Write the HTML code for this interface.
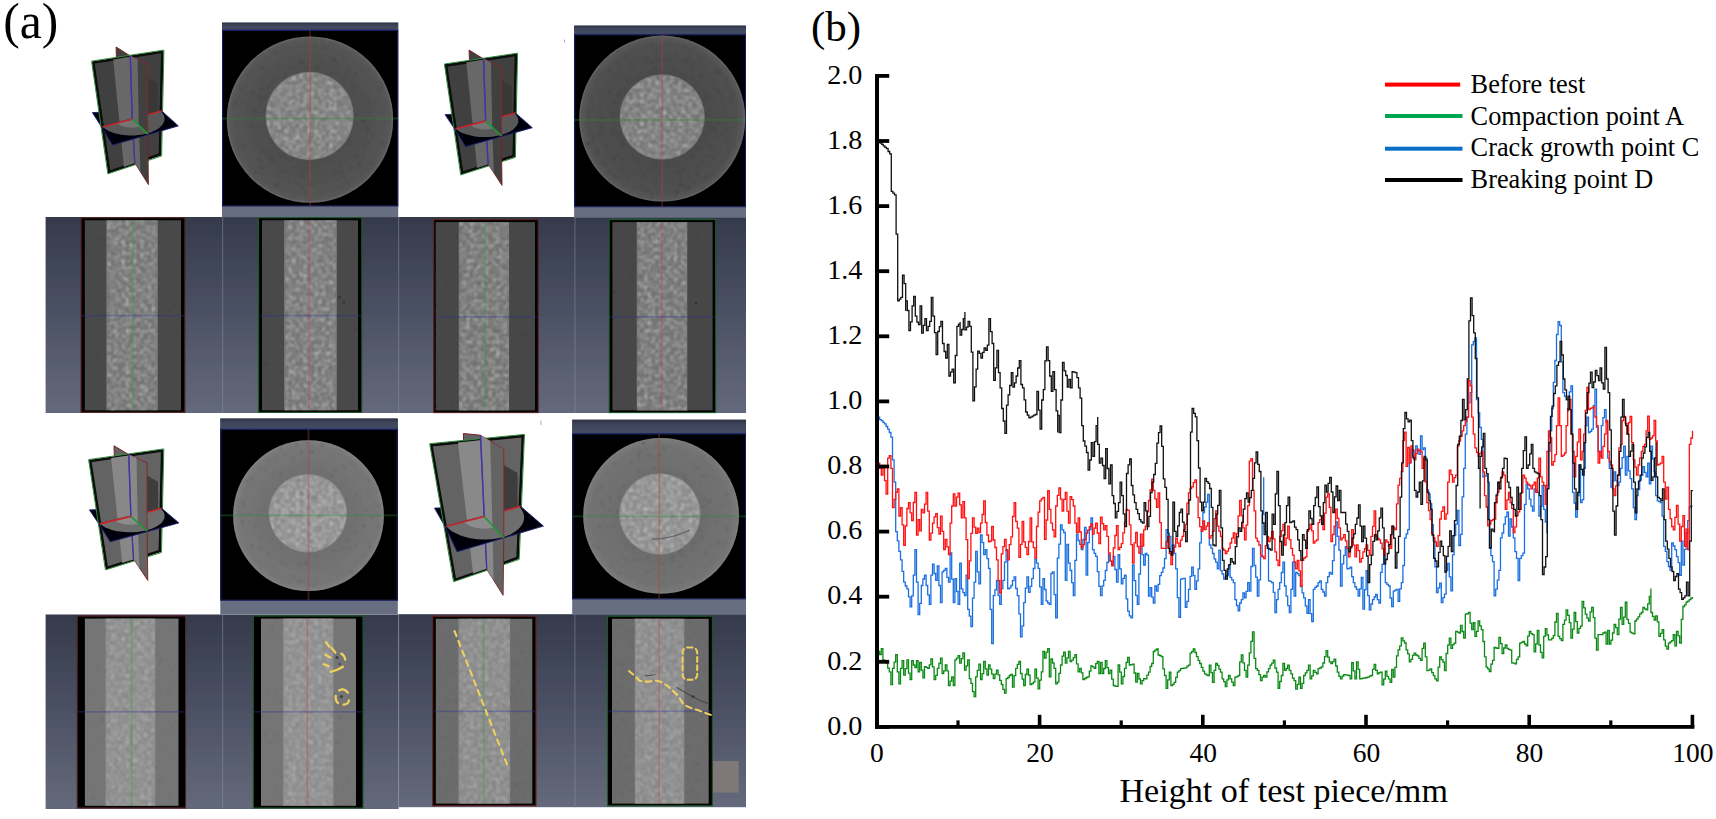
<!DOCTYPE html>
<html lang="en">
<head>
<meta charset="utf-8">
<title>CT scan slices and porosity along specimen height</title>
<style>
html,body{margin:0;padding:0;background:#fff;}
body{width:1716px;height:819px;overflow:hidden;font-family:"Liberation Serif","Times New Roman",serif;}
svg{display:block;}
</style>
</head>
<body>
<svg width="1716" height="819" viewBox="0 0 1716 819">
<rect width="1716" height="819" fill="#fff"/>
<defs><filter id="pa-soft" filterUnits="userSpaceOnUse" x="40" y="15" width="712" height="800"><feGaussianBlur stdDeviation="0.55"/></filter></defs>
<g id="panel-a" filter="url(#pa-soft)">

<defs>
<linearGradient id="slate" x1="0" y1="0" x2="0" y2="1">
<stop offset="0" stop-color="#353a4c"/><stop offset="0.45" stop-color="#4a4f62"/><stop offset="1" stop-color="#64697b"/>
</linearGradient>
<linearGradient id="strip" x1="0" y1="0" x2="0" y2="1">
<stop offset="0" stop-color="#5e6478"/><stop offset="1" stop-color="#686e81"/>
</linearGradient>
<linearGradient id="stript" x1="0" y1="0" x2="0" y2="1">
<stop offset="0" stop-color="#2d3345"/><stop offset="0.35" stop-color="#3e455a"/><stop offset="1" stop-color="#454c63"/>
</linearGradient>
<filter id="spk" x="0" y="0" width="100%" height="100%">
<feTurbulence type="fractalNoise" baseFrequency="0.27" numOctaves="3" seed="7"/>
<feColorMatrix type="matrix" values="0 0 0 0 1  0 0 0 0 1  0 0 0 0 1  1.6 1.6 0 0 -1.38"/>
<feGaussianBlur stdDeviation="0.85"/>
</filter>
<filter id="spd" x="0" y="0" width="100%" height="100%">
<feTurbulence type="fractalNoise" baseFrequency="0.24" numOctaves="2" seed="21"/>
<feColorMatrix type="matrix" values="0 0 0 0 0  0 0 0 0 0  0 0 0 0 0  -1.8 -1.8 0 0 1.45"/>
<feGaussianBlur stdDeviation="1.0"/>
</filter>
<radialGradient id="ringsh" cx="0.5" cy="0.5" r="0.5">
<stop offset="0.5" stop-color="#000" stop-opacity="0.05"/><stop offset="0.85" stop-color="#000" stop-opacity="0"/><stop offset="0.95" stop-color="#fff" stop-opacity="0.03"/><stop offset="1" stop-color="#fff" stop-opacity="0.07"/>
</radialGradient>
<filter id="soft" x="-5%" y="-5%" width="110%" height="110%"><feGaussianBlur stdDeviation="0.7"/></filter>
<filter id="soft2" x="-5%" y="-5%" width="110%" height="110%"><feGaussianBlur stdDeviation="0.45"/></filter>
</defs>
<rect x="45.6" y="217" width="700.4" height="196" fill="url(#slate)"/>
<rect x="45.6" y="614.5" width="353" height="194.5" fill="url(#slate)"/>
<rect x="398.5" y="614.2" width="347.5" height="193" fill="url(#slate)"/>
<rect x="222" y="217" width="1.2" height="196" fill="#8a90a6" fill-opacity="0.45"/>
<rect x="398" y="217" width="1.2" height="196" fill="#8a90a6" fill-opacity="0.45"/>
<rect x="574.3" y="217" width="1.2" height="196" fill="#8a90a6" fill-opacity="0.45"/>
<rect x="222" y="614.5" width="1.2" height="193" fill="#8a90a6" fill-opacity="0.45"/>
<rect x="398" y="614.5" width="1.2" height="193" fill="#8a90a6" fill-opacity="0.45"/>
<rect x="574.3" y="614.5" width="1.2" height="193" fill="#8a90a6" fill-opacity="0.45"/>
<rect x="222" y="22.6" width="176.2" height="194.6" fill="url(#strip)"/>
<rect x="222" y="22.6" width="176.2" height="7.7" fill="url(#stript)"/>
<rect x="222" y="30.3" width="176.2" height="175.7" fill="#000"/>
<rect x="222" y="29.6" width="176.2" height="1.4" fill="#1b2468"/>
<rect x="222" y="205.4" width="176.2" height="1.2" fill="#232a66"/>
<rect x="222" y="30.3" width="1.2" height="175.7" fill="#161c5a"/>
<rect x="397" y="30.3" width="1.2" height="175.7" fill="#161c5a"/>
<clipPath id="bc1"><rect x="222" y="30.3" width="176.2" height="175.7"/></clipPath>
<g clip-path="url(#bc1)">
<g filter="url(#soft)">
<circle cx="310" cy="119.6" r="83.2" fill="#525252"/>
<circle cx="310" cy="119.6" r="82.4" fill="none" stroke="#8a8a8a" stroke-opacity="0.14" stroke-width="1.6"/>
<circle cx="310" cy="119.6" r="83.2" fill="url(#ringsh)"/>
<circle cx="309.6" cy="116" r="44.2" fill="#787878"/>
</g>
<clipPath id="oc1"><circle cx="310" cy="119.6" r="82.2"/></clipPath>
<clipPath id="ic1"><circle cx="309.6" cy="116" r="43.2"/></clipPath>
<g clip-path="url(#oc1)" opacity="0.34"><rect x="226.8" y="36.4" width="166.4" height="166.4" filter="url(#spd)"/></g>
<g clip-path="url(#ic1)" opacity="0.5"><rect x="265.4" y="71.8" width="88.4" height="88.4" filter="url(#spk)"/></g>
<rect x="222" y="117.6" width="176.2" height="1.8" fill="#2a8a34" fill-opacity="0.36"/>
<rect x="309.3" y="30.3" width="1.8" height="175.7" fill="#b04040" fill-opacity="0.36"/>
</g>
<rect x="574.1" y="25.6" width="171.9" height="192.1" fill="url(#strip)"/>
<rect x="574.1" y="25.6" width="171.9" height="9" fill="url(#stript)"/>
<rect x="574.1" y="34.6" width="171.9" height="172.1" fill="#000"/>
<rect x="574.1" y="33.9" width="171.9" height="1.4" fill="#1b2468"/>
<rect x="574.1" y="206.1" width="171.9" height="1.2" fill="#232a66"/>
<rect x="574.1" y="34.6" width="1.2" height="172.1" fill="#161c5a"/>
<rect x="744.8" y="34.6" width="1.2" height="172.1" fill="#161c5a"/>
<clipPath id="bc2"><rect x="574.1" y="34.6" width="171.9" height="172.1"/></clipPath>
<g clip-path="url(#bc2)">
<g filter="url(#soft)">
<circle cx="662.2" cy="118.6" r="83" fill="#4f4f4f"/>
<circle cx="662.2" cy="118.6" r="82.2" fill="none" stroke="#8a8a8a" stroke-opacity="0.14" stroke-width="1.6"/>
<circle cx="662.2" cy="118.6" r="83" fill="url(#ringsh)"/>
<circle cx="662.2" cy="117" r="42.7" fill="#757575"/>
</g>
<clipPath id="oc2"><circle cx="662.2" cy="118.6" r="82"/></clipPath>
<clipPath id="ic2"><circle cx="662.2" cy="117" r="41.7"/></clipPath>
<g clip-path="url(#oc2)" opacity="0.34"><rect x="579.2" y="35.6" width="166" height="166" filter="url(#spd)"/></g>
<g clip-path="url(#ic2)" opacity="0.5"><rect x="619.5" y="74.3" width="85.4" height="85.4" filter="url(#spk)"/></g>
<rect x="574.1" y="119.1" width="171.9" height="1.8" fill="#2a8a34" fill-opacity="0.36"/>
<rect x="661.4" y="34.6" width="1.8" height="172.1" fill="#b04040" fill-opacity="0.36"/>
</g>
<rect x="220.3" y="418.5" width="177.5" height="195.9" fill="url(#strip)"/>
<rect x="220.3" y="418.5" width="177.5" height="10.8" fill="url(#stript)"/>
<rect x="220.3" y="429.3" width="177.5" height="171" fill="#000"/>
<rect x="220.3" y="428.6" width="177.5" height="1.4" fill="#1b2468"/>
<rect x="220.3" y="599.7" width="177.5" height="1.2" fill="#232a66"/>
<rect x="220.3" y="429.3" width="1.2" height="171" fill="#161c5a"/>
<rect x="396.6" y="429.3" width="1.2" height="171" fill="#161c5a"/>
<clipPath id="bc3"><rect x="220.3" y="429.3" width="177.5" height="171"/></clipPath>
<g clip-path="url(#bc3)">
<g filter="url(#soft)">
<circle cx="308.5" cy="515.7" r="75.4" fill="#757575"/>
<circle cx="308.5" cy="515.7" r="74.6" fill="none" stroke="#8a8a8a" stroke-opacity="0.14" stroke-width="1.6"/>
<circle cx="308.5" cy="515.7" r="75.4" fill="url(#ringsh)"/>
<circle cx="307.8" cy="513.3" r="39.3" fill="#8c8c8c"/>
</g>
<clipPath id="oc3"><circle cx="308.5" cy="515.7" r="74.4"/></clipPath>
<clipPath id="ic3"><circle cx="307.8" cy="513.3" r="38.3"/></clipPath>
<g clip-path="url(#oc3)" opacity="0.34"><rect x="233.1" y="440.3" width="150.8" height="150.8" filter="url(#spd)"/></g>
<g clip-path="url(#ic3)" opacity="0.5"><rect x="268.5" y="474" width="78.6" height="78.6" filter="url(#spk)"/></g>
<rect x="220.3" y="514.5" width="177.5" height="1.8" fill="#2a8a34" fill-opacity="0.36"/>
<rect x="307.6" y="429.3" width="1.8" height="171" fill="#b04040" fill-opacity="0.36"/>
</g>
<rect x="572.2" y="419.7" width="173.8" height="194.5" fill="url(#strip)"/>
<rect x="572.2" y="419.7" width="173.8" height="14.1" fill="url(#stript)"/>
<rect x="572.2" y="433.8" width="173.8" height="165.1" fill="#000"/>
<rect x="572.2" y="433.1" width="173.8" height="1.4" fill="#1b2468"/>
<rect x="572.2" y="598.3" width="173.8" height="1.2" fill="#232a66"/>
<rect x="572.2" y="433.8" width="1.2" height="165.1" fill="#161c5a"/>
<rect x="744.8" y="433.8" width="1.2" height="165.1" fill="#161c5a"/>
<clipPath id="bc4"><rect x="572.2" y="433.8" width="173.8" height="165.1"/></clipPath>
<g clip-path="url(#bc4)">
<g filter="url(#soft)">
<circle cx="661.1" cy="515.8" r="77.9" fill="#727272"/>
<circle cx="661.1" cy="515.8" r="77.1" fill="none" stroke="#8a8a8a" stroke-opacity="0.14" stroke-width="1.6"/>
<circle cx="661.1" cy="515.8" r="77.9" fill="url(#ringsh)"/>
<circle cx="659.8" cy="514" r="40.8" fill="#8a8a8a"/>
</g>
<clipPath id="oc4"><circle cx="661.1" cy="515.8" r="76.9"/></clipPath>
<clipPath id="ic4"><circle cx="659.8" cy="514" r="39.8"/></clipPath>
<g clip-path="url(#oc4)" opacity="0.34"><rect x="583.2" y="437.9" width="155.8" height="155.8" filter="url(#spd)"/></g>
<g clip-path="url(#ic4)" opacity="0.5"><rect x="619" y="473.2" width="81.6" height="81.6" filter="url(#spk)"/></g>
<rect x="572.2" y="515.5" width="173.8" height="1.8" fill="#2a8a34" fill-opacity="0.36"/>
<rect x="658.3" y="433.8" width="1.8" height="165.1" fill="#b04040" fill-opacity="0.36"/>
</g>
<rect x="81" y="217.7" width="103.9" height="194.7" fill="#050505" stroke="#5c2222" stroke-width="1.1"/>
<g filter="url(#soft2)">
<rect x="84.9" y="220.3" width="96.1" height="189.9" fill="#4a4a4a"/>
<rect x="106.2" y="220.3" width="51.8" height="189.9" fill="#717171"/>
</g>
<g opacity="0.2"><rect x="84.9" y="220.3" width="96.1" height="189.9" filter="url(#spd)"/></g>
<g opacity="0.5"><rect x="107.2" y="220.3" width="49.8" height="189.9" filter="url(#spk)"/></g>
<rect x="132" y="220.3" width="1.7" height="189.9" fill="#2a9a3a" fill-opacity="0.33"/>
<rect x="82" y="314.8" width="101.9" height="1.6" fill="#2a2f9a" fill-opacity="0.34"/>
<rect x="258.5" y="217.7" width="103.3" height="194.7" fill="#050505" stroke="#1a5a24" stroke-width="1.1"/>
<g filter="url(#soft2)">
<rect x="262" y="220.3" width="96" height="189.9" fill="#4a4a4a"/>
<rect x="284" y="220.3" width="53" height="189.9" fill="#737373"/>
</g>
<g opacity="0.2"><rect x="262" y="220.3" width="96" height="189.9" filter="url(#spd)"/></g>
<g opacity="0.5"><rect x="285" y="220.3" width="51" height="189.9" filter="url(#spk)"/></g>
<rect x="308.3" y="220.3" width="1.7" height="189.9" fill="#c04040" fill-opacity="0.33"/>
<rect x="259.5" y="314.8" width="101.3" height="1.6" fill="#2a2f9a" fill-opacity="0.34"/>
<rect x="433.6" y="219.5" width="104.6" height="193.1" fill="#050505" stroke="#5c2222" stroke-width="1.1"/>
<g filter="url(#soft2)">
<rect x="435.8" y="222.1" width="99.2" height="188.3" fill="#474747"/>
<rect x="458.7" y="222.1" width="50.5" height="188.3" fill="#6f6f6f"/>
</g>
<g opacity="0.2"><rect x="435.8" y="222.1" width="99.2" height="188.3" filter="url(#spd)"/></g>
<g opacity="0.5"><rect x="459.7" y="222.1" width="48.5" height="188.3" filter="url(#spk)"/></g>
<rect x="484.5" y="222.1" width="1.7" height="188.3" fill="#2a9a3a" fill-opacity="0.33"/>
<rect x="434.6" y="316.1" width="102.6" height="1.6" fill="#2a2f9a" fill-opacity="0.34"/>
<rect x="609.2" y="219.5" width="106.4" height="193.1" fill="#050505" stroke="#1a5a24" stroke-width="1.1"/>
<g filter="url(#soft2)">
<rect x="612.4" y="222.1" width="100.2" height="188.3" fill="#474747"/>
<rect x="636.7" y="222.1" width="50.7" height="188.3" fill="#707070"/>
</g>
<g opacity="0.2"><rect x="612.4" y="222.1" width="100.2" height="188.3" filter="url(#spd)"/></g>
<g opacity="0.5"><rect x="637.7" y="222.1" width="48.7" height="188.3" filter="url(#spk)"/></g>
<rect x="660.9" y="222.1" width="1.7" height="188.3" fill="#c04040" fill-opacity="0.33"/>
<rect x="610.2" y="316.1" width="104.4" height="1.6" fill="#2a2f9a" fill-opacity="0.34"/>
<rect x="77.2" y="616" width="108.4" height="192" fill="#050505" stroke="#5c2222" stroke-width="1.1"/>
<g filter="url(#soft2)">
<rect x="84.9" y="618.6" width="93.6" height="187.2" fill="#747474"/>
<rect x="105.4" y="618.6" width="50" height="187.2" fill="#8a8a8a"/>
</g>
<g opacity="0.2"><rect x="84.9" y="618.6" width="93.6" height="187.2" filter="url(#spd)"/></g>
<g opacity="0.34"><rect x="106.4" y="618.6" width="48" height="187.2" filter="url(#spk)"/></g>
<rect x="130.7" y="618.6" width="1.7" height="187.2" fill="#2a9a3a" fill-opacity="0.33"/>
<rect x="78.2" y="711" width="106.4" height="1.6" fill="#2a2f9a" fill-opacity="0.34"/>
<rect x="253.3" y="616" width="109.7" height="192" fill="#050505" stroke="#1a5a24" stroke-width="1.1"/>
<g filter="url(#soft2)">
<rect x="261" y="618.6" width="95" height="187.2" fill="#757575"/>
<rect x="283" y="618.6" width="50.6" height="187.2" fill="#8b8b8b"/>
</g>
<g opacity="0.2"><rect x="261" y="618.6" width="95" height="187.2" filter="url(#spd)"/></g>
<g opacity="0.34"><rect x="284" y="618.6" width="48.6" height="187.2" filter="url(#spk)"/></g>
<rect x="306.5" y="618.6" width="1.7" height="187.2" fill="#c04040" fill-opacity="0.33"/>
<rect x="254.3" y="711" width="107.7" height="1.6" fill="#2a2f9a" fill-opacity="0.34"/>
<rect x="432.6" y="616.2" width="103.4" height="189.6" fill="#050505" stroke="#6a2020" stroke-width="1.1"/>
<g filter="url(#soft2)">
<rect x="435.8" y="618.8" width="96.5" height="184.8" fill="#6c6c6c"/>
<rect x="458.4" y="618.8" width="51.7" height="184.8" fill="#878787"/>
</g>
<g opacity="0.2"><rect x="435.8" y="618.8" width="96.5" height="184.8" filter="url(#spd)"/></g>
<g opacity="0.34"><rect x="459.4" y="618.8" width="49.7" height="184.8" filter="url(#spk)"/></g>
<rect x="482.8" y="618.8" width="1.7" height="184.8" fill="#2a9a3a" fill-opacity="0.33"/>
<rect x="433.6" y="710.6" width="101.4" height="1.6" fill="#2a2f9a" fill-opacity="0.34"/>
<rect x="607.5" y="616.2" width="104.9" height="189.6" fill="#050505" stroke="#1a5a24" stroke-width="1.1"/>
<g filter="url(#soft2)">
<rect x="612" y="618.8" width="96.7" height="184.8" fill="#6c6c6c"/>
<rect x="634.8" y="618.8" width="49.6" height="184.8" fill="#888888"/>
</g>
<g opacity="0.2"><rect x="612" y="618.8" width="96.7" height="184.8" filter="url(#spd)"/></g>
<g opacity="0.34"><rect x="635.8" y="618.8" width="47.6" height="184.8" filter="url(#spk)"/></g>
<rect x="658.4" y="618.8" width="1.7" height="184.8" fill="#c04040" fill-opacity="0.33"/>
<rect x="608.5" y="710.6" width="102.9" height="1.6" fill="#2a2f9a" fill-opacity="0.34"/>
<rect x="713" y="761" width="25.8" height="31.6" fill="#7f7878"/>
<g fill="none" stroke="#f0cf5e" stroke-width="2" stroke-linecap="round">
<path d="M325.9 642.1 L329.2 646.5 M331.4 647.6 L335.3 652.5 M341.3 653.6 Q344.6 655.6 345.2 659.7 M325.4 654.7 L330.3 657.5 M323.7 664.1 L328.7 666.3 M330.3 671.8 Q336.4 671 343 666.8" stroke-width="2.3"/>
<path d="M339.1 690.4 Q344 687.6 347.9 692.6 M335.8 695.9 Q335 700.5 338 703.1 M343.5 704.7 Q348.2 704.6 349 700.4" stroke-width="2.3"/>
<path d="M454.5 631 L507 764.5" stroke-width="2.1" stroke-dasharray="5.6 5"/>
<path d="M629 671 Q634 675 639.4 680.7 Q647 682.5 653.3 680.7 Q658 680.5 661.4 682.1 Q666 684.5 669.6 687.7 L677.7 695.4 Q681 700 683.5 704.6 Q690 708 697.4 710 L712.5 715.5" stroke-width="2.1" stroke-dasharray="5.8 4.4"/>
<rect x="682.6" y="647.4" width="14.6" height="32.4" rx="5" stroke-width="2" stroke-dasharray="5 3.4"/>
</g>
<path d="M645 675.6 Q650 676 655.6 674.5 M676.5 687.2 Q686 693 692.7 696.5 Q700 701 707.8 703.5" fill="none" stroke="#3a3a3a" stroke-opacity="0.7" stroke-width="1.2"/>
<path d="M652 539 Q668 540 690 530" fill="none" stroke="#555" stroke-opacity="0.8" stroke-width="1.3"/>
<g fill="#2c2c2c" fill-opacity="0.75" filter="url(#soft2)"><circle cx="337" cy="657.5" r="1.5"/><circle cx="341.4" cy="696.6" r="1.6"/><circle cx="339.6" cy="664" r="1.1"/><circle cx="693" cy="696.6" r="1.4"/><circle cx="339.5" cy="297" r="1.4"/><circle cx="344" cy="302.5" r="1.2"/><circle cx="696" cy="303" r="1.3"/></g>
<rect x="564" y="39.6" width="1" height="3" fill="#8a8a8a" fill-opacity="0.7"/>
<rect x="540.4" y="420.6" width="1" height="4.4" fill="#8a8a8a" fill-opacity="0.7"/>
<g stroke-linejoin="round">
<polygon points="92.4,112.6 161.3,109.9 161.7,110.9 101.5,126.9" fill="#04040c" stroke="#1a1f7a" stroke-width="0.9"/>
<polygon points="116.1,47 130.2,55.9 134.7,162.8 118.8,134.9" fill="#414141" stroke="#7a2020" stroke-width="1"/>
<g filter="url(#soft2)">
<polygon points="93.2,62.5 162.3,51.7 160,154.6 109.2,172" fill="#414141" stroke="#070707" stroke-width="2.6"/>
<polygon points="113.2,59.4 131.2,56.6 136.1,162.8 123.9,167" fill="#686868"/>
</g>
<polygon points="91.6,61.1 163.9,50.1 161.6,156 107.8,173.8" fill="none" stroke="#2f8a3a" stroke-width="1" transform="translate(0,0)"/>
<polygon points="147.8,77.3 158.2,83.8 158.2,116.9 147.8,134.1" fill="#383838" fill-opacity="0.9" filter="url(#soft)"/>
<polygon points="132.2,119.2 147.8,134.1 148.4,184.6 134.7,162.8" fill="#414141" stroke="#7a2020" stroke-width="0.9"/>
<polygon points="133,120 138.8,125.5 140.5,171.9 135.4,163.9" fill="#686868"/>
<line x1="132.2" y1="119.2" x2="134.7" y2="162.8" stroke="#3236c4" stroke-width="1.3" stroke-opacity="0.85"/>
<polygon points="101.5,126.9 161.7,110.9 178.3,125.9 112.5,145.1" fill="#030308" stroke="#1a1f7a" stroke-width="0.9"/>
<polygon points="160.8,111.2 162.5,113.1 163.8,115.2 164.4,117.3 164.5,119.5 164.1,121.7 163,123.8 161.5,125.8 159.4,127.7 156.9,129.5 153.9,131 150.5,132.4 146.9,133.5 142.9,134.4 138.8,135 134.5,135.4 130.2,135.5 126,135.2 121.8,134.7 117.8,134 114,132.9 110.5,131.7 107.4,130.2 104.7,128.5 102.4,126.6" fill="#585858" filter="url(#soft2)"/>
<polygon points="146.7,114.9 147.6,116 148.2,117.1 148.6,118.2 148.7,119.3 148.5,120.5 148,121.6 147.2,122.6 146.1,123.6 144.8,124.5 143.3,125.4 141.6,126.1 139.7,126.7 137.7,127.1 135.5,127.4 133.3,127.6 131.1,127.6 128.9,127.5 126.7,127.2 124.6,126.8 122.6,126.2 120.8,125.6 119.2,124.8 117.8,123.9 116.6,122.9" fill="#747474" filter="url(#soft)"/>
<polygon points="130.2,55.9 147.8,64.2 147.8,134.1 132.2,119.2" fill="#414141" stroke="#8a2626" stroke-width="0.9"/>
<polygon points="130.9,56.3 137.6,59.4 138.8,125.5 132.9,119.8" fill="#686868"/>
<line x1="130.2" y1="55.9" x2="132.2" y2="119.2" stroke="#3236c4" stroke-width="1.4" stroke-opacity="0.9"/>
<line x1="102.5" y1="126.9" x2="132.2" y2="119.2" stroke="#c82626" stroke-width="1.6"/>
<line x1="148.7" y1="114.6" x2="161.7" y2="110.9" stroke="#c82626" stroke-width="1.6"/>
<line x1="132.2" y1="119.2" x2="147.8" y2="134.1" stroke="#1c9a34" stroke-width="1.6"/>
</g>
<g stroke-linejoin="round">
<polygon points="445.1,114.6 515,112 515.5,113 454.4,128.7" fill="#04040c" stroke="#1a1f7a" stroke-width="0.9"/>
<polygon points="469.1,50.1 483.5,58.9 488.1,164 471.9,136.4" fill="#404040" stroke="#7a2020" stroke-width="1"/>
<g filter="url(#soft2)">
<polygon points="446,65.4 516,54.8 513.8,156 462.1,173.1" fill="#404040" stroke="#070707" stroke-width="2.6"/>
<polygon points="466.3,62.3 484.5,59.6 489.5,164 477.1,168.1" fill="#676767"/>
</g>
<polygon points="444.4,64 517.6,53.2 515.4,157.4 460.7,174.9" fill="none" stroke="#2f8a3a" stroke-width="1" transform="translate(0,0)"/>
<polygon points="501.4,79.9 511.9,86.4 511.9,119 501.4,135.8" fill="#383838" fill-opacity="0.9" filter="url(#soft)"/>
<polygon points="485.6,121.1 501.4,135.8 502,185.4 488.1,164" fill="#404040" stroke="#7a2020" stroke-width="0.9"/>
<polygon points="486.3,121.9 492.2,127.3 493.9,173 488.8,165.1" fill="#676767"/>
<line x1="485.6" y1="121.1" x2="488.1" y2="164" stroke="#3236c4" stroke-width="1.3" stroke-opacity="0.85"/>
<polygon points="454.4,128.7 515.5,113 532.3,127.7 465.6,146.6" fill="#030308" stroke="#1a1f7a" stroke-width="0.9"/>
<polygon points="514.5,113.2 516.3,115.2 517.5,117.2 518.2,119.3 518.3,121.4 517.8,123.6 516.8,125.6 515.2,127.6 513.1,129.5 510.6,131.2 507.5,132.8 504.1,134.1 500.4,135.2 496.4,136.1 492.2,136.7 487.9,137.1 483.5,137.1 479.2,136.9 474.9,136.4 470.9,135.6 467,134.6 463.5,133.4 460.3,131.9 457.6,130.3 455.3,128.5" fill="#585858" filter="url(#soft2)"/>
<polygon points="500.2,116.9 501.1,117.9 501.8,119 502.2,120.1 502.3,121.3 502,122.4 501.5,123.5 500.7,124.5 499.7,125.5 498.4,126.4 496.8,127.2 495.1,127.9 493.1,128.5 491.1,128.9 488.9,129.2 486.7,129.4 484.4,129.4 482.1,129.3 479.9,129 477.8,128.6 475.8,128.1 474,127.4 472.3,126.6 470.9,125.7 469.7,124.8" fill="#747474" filter="url(#soft)"/>
<polygon points="483.5,58.9 501.4,67.1 501.4,135.8 485.6,121.1" fill="#404040" stroke="#8a2626" stroke-width="0.9"/>
<polygon points="484.2,59.2 491,62.3 492.2,127.3 486.2,121.7" fill="#676767"/>
<line x1="483.5" y1="58.9" x2="485.6" y2="121.1" stroke="#3236c4" stroke-width="1.4" stroke-opacity="0.9"/>
<line x1="455.4" y1="128.7" x2="485.6" y2="121.1" stroke="#c82626" stroke-width="1.6"/>
<line x1="502.3" y1="116.6" x2="515.5" y2="113" stroke="#c82626" stroke-width="1.6"/>
<line x1="485.6" y1="121.1" x2="501.4" y2="135.8" stroke="#1c9a34" stroke-width="1.6"/>
</g>
<g stroke-linejoin="round">
<polygon points="89.4,509.9 161.2,507.3 161.6,508.3 98.9,523.9" fill="#04040c" stroke="#1a1f7a" stroke-width="0.9"/>
<polygon points="114,445.8 128.7,454.6 133.5,559 116.9,531.6" fill="#646464" stroke="#7a2020" stroke-width="1"/>
<g filter="url(#soft2)">
<polygon points="90.2,461 162.2,450.5 159.9,551.1 106.8,568.1" fill="#646464" stroke="#070707" stroke-width="2.6"/>
<polygon points="111.1,457.9 129.8,455.2 135,559.1 122.2,563.1" fill="#888888"/>
</g>
<polygon points="88.6,459.6 163.8,448.9 161.5,552.5 105.4,569.9" fill="none" stroke="#2f8a3a" stroke-width="1" transform="translate(0,0)"/>
<polygon points="147.1,475.5 158,481.8 158,514.3 147.1,531" fill="#383838" fill-opacity="0.9" filter="url(#soft)"/>
<polygon points="130.9,516.4 147.1,531 147.8,580.4 133.5,559" fill="#646464" stroke="#7a2020" stroke-width="0.9"/>
<polygon points="131.7,517.2 137.7,522.6 139.5,568 134.2,560.1" fill="#888888"/>
<line x1="130.9" y1="516.4" x2="133.5" y2="559" stroke="#3236c4" stroke-width="1.3" stroke-opacity="0.85"/>
<polygon points="98.9,523.9 161.6,508.3 178.9,522.9 110.3,541.8" fill="#030308" stroke="#1a1f7a" stroke-width="0.9"/>
<polygon points="160.7,508.6 162.5,510.5 163.8,512.5 164.5,514.6 164.6,516.7 164.1,518.8 163,520.9 161.4,522.9 159.2,524.7 156.6,526.5 153.5,528 150,529.3 146.2,530.5 142,531.3 137.7,531.9 133.3,532.3 128.8,532.3 124.3,532.1 120,531.6 115.8,530.9 111.8,529.9 108.2,528.6 105,527.2 102.2,525.5 99.8,523.7" fill="#6e6e6e" filter="url(#soft2)"/>
<polygon points="145.9,512.2 146.9,513.3 147.6,514.3 148,515.4 148.1,516.6 147.8,517.7 147.3,518.7 146.5,519.8 145.4,520.8 144.1,521.7 142.5,522.5 140.7,523.2 138.7,523.7 136.6,524.2 134.3,524.5 132,524.6 129.7,524.7 127.4,524.5 125.1,524.3 122.9,523.9 120.9,523.3 119,522.7 117.3,521.9 115.8,521 114.6,520" fill="#8c8c8c" filter="url(#soft)"/>
<polygon points="128.7,454.6 147.1,462.7 147.1,531 130.9,516.4" fill="#646464" stroke="#8a2626" stroke-width="0.9"/>
<polygon points="129.5,454.9 136.5,458 137.7,522.6 131.6,517" fill="#888888"/>
<line x1="128.7" y1="454.6" x2="130.9" y2="516.4" stroke="#3236c4" stroke-width="1.4" stroke-opacity="0.9"/>
<line x1="99.9" y1="523.9" x2="130.9" y2="516.4" stroke="#c82626" stroke-width="1.6"/>
<line x1="148.1" y1="511.9" x2="161.6" y2="508.3" stroke="#c82626" stroke-width="1.6"/>
<line x1="130.9" y1="516.4" x2="147.1" y2="531" stroke="#1c9a34" stroke-width="1.6"/>
</g>
<g stroke-linejoin="round">
<polygon points="434.5,508.1 520.1,505.8 520.5,506.3 445,526.6" fill="#04040c" stroke="#1a1f7a" stroke-width="0.9"/>
<polygon points="463.4,433.5 480.4,435.2 486.7,569.2 467.2,556" fill="#646464" stroke="#7a2020" stroke-width="1"/>
<g filter="url(#soft2)">
<polygon points="431.3,445.1 522.9,436 517.6,558 454.9,579.9" fill="#646464" stroke="#070707" stroke-width="2.6"/>
<polygon points="457.9,442.4 481.7,440.1 488.1,568.3 473.1,573.5" fill="#898989"/>
</g>
<polygon points="429.7,443.7 524.5,434.4 519.2,559.4 453.5,581.7" fill="none" stroke="#2f8a3a" stroke-width="1" transform="translate(0,0)"/>
<polygon points="503.8,465.1 517.5,473.1 517.5,512.3 503.8,538" fill="#383838" fill-opacity="0.9" filter="url(#soft)"/>
<polygon points="484.2,516.5 503.8,538 503.1,595.3 486.7,569.2" fill="#646464" stroke="#7a2020" stroke-width="0.9"/>
<polygon points="485.1,517.6 492.4,525.5 493.6,580.2 487.5,570.5" fill="#898989"/>
<line x1="484.2" y1="516.5" x2="486.7" y2="569.2" stroke="#3236c4" stroke-width="1.3" stroke-opacity="0.85"/>
<polygon points="445,526.6 520.5,506.3 543.4,526.1 457.1,551.7" fill="#030308" stroke="#1a1f7a" stroke-width="0.9"/>
<polygon points="519.4,506.6 521.6,509.4 523.1,512.3 524,515.4 524.1,518.4 523.5,521.4 522.2,524.3 520.3,527.1 517.7,529.7 514.5,532.1 510.8,534.2 506.6,536 502,537.4 497,538.5 491.8,539.3 486.5,539.6 481.1,539.5 475.7,539.1 470.4,538.2 465.4,537 460.6,535.4 456.3,533.5 452.3,531.4 449,528.9 446.1,526.2" fill="#6e6e6e" filter="url(#soft2)"/>
<polygon points="501.7,511.3 502.8,512.8 503.6,514.4 504.1,516 504.2,517.6 504,519.2 503.3,520.7 502.3,522.2 501,523.5 499.4,524.8 497.5,525.9 495.3,526.8 493,527.6 490.4,528.1 487.7,528.5 485,528.7 482.1,528.6 479.4,528.3 476.6,527.9 474,527.2 471.5,526.4 469.2,525.4 467.2,524.2 465.4,522.9 463.9,521.5" fill="#8c8c8c" filter="url(#soft)"/>
<polygon points="480.4,435.2 503.8,449.1 503.8,538 484.2,516.5" fill="#646464" stroke="#8a2626" stroke-width="0.9"/>
<polygon points="481.4,435.7 490.2,441 492.4,525.5 485,517.4" fill="#898989"/>
<line x1="480.4" y1="435.2" x2="484.2" y2="516.5" stroke="#3236c4" stroke-width="1.4" stroke-opacity="0.9"/>
<line x1="446" y1="526.6" x2="484.2" y2="516.5" stroke="#c82626" stroke-width="1.6"/>
<line x1="504.5" y1="510.8" x2="520.5" y2="506.3" stroke="#c82626" stroke-width="1.6"/>
<line x1="484.2" y1="516.5" x2="503.8" y2="538" stroke="#1c9a34" stroke-width="1.6"/>
</g>
</g>
<g id="panel-b">
<path d="M876.5 634.2H878.1V651.3H879.7V654.7H881.3V648.7H882.9V659.8H884.5V660.9H886.1V663.2H887.7V668.1H889.3V671.8H890.9V684.6H892.5V668.4H894.1V662.1H895.7V654.7H897.3V671.8H898.9V683.8H900.5V668.4H902.1V660.7H903.7V675.2H905.3V668.6H906.9V659.8H908.5V673.2H910.1V679.5H911.7V660.7H913.3V665H914.9V667.5H916.5V660.7H918.1V671.8H919.7V662.4H921.3V670.2H922.9V677.8H924.5V666.7H926.1V667.4H927.7V668.4H929.3V664.8H930.9V659H932.5V666.8H934.1V679.5H935.7V675.4H937.3V668.4H938.9V663.5H940.5V658.1H942.1V673.5H943.7V670.9H945.3V665H946.9V670.8H948.5V685.5H950.1V681.2H951.7V676.9H953.3V685.5H954.9V659.8H956.5V658.1H958.1V655.6H959.7V663.2H961.3V658.6H962.9V653H964.5V670.1H966.1V665.8H967.7V659.8H969.3V678.6H970.9V683.3H972.5V691.7H974.1V696.6H975.7V676.9H977.3V670.4H978.9V664.1H980.5V679.5H982.1V673.7H983.7V661.5H985.3V668.9H986.9V675.2H988.5V665H990.1V669.1H991.7V674.2H993.3V678.6H994.9V674.1H996.5V670.1H998.1V674.9H999.7V680.3H1001.3V684.5H1002.9V689.3H1004.5V693.2H1006.1V678.6H1007.7V677.5H1009.3V675.5H1010.9V674.4H1012.5V687.2H1014.1V675.7H1015.7V668.4H1017.3V664.4H1018.9V661.5H1020.5V673.5H1022.1V679.2H1023.7V685.5H1025.3V674.5H1026.9V669.2H1028.5V675.2H1030.1V684.6H1031.7V683.6H1033.3V682.1H1034.9V669.2H1036.5V678.1H1038.1V688.9H1039.7V680.1H1041.3V671.8H1042.9V651.3H1044.5V658.1H1046.1V652.2H1047.7V648.7H1049.3V676.9H1050.9V659H1052.5V663H1054.1V668.4H1055.7V683.8H1057.3V682.1H1058.9V673.4H1060.5V665H1062.1V656.1H1063.7V652.1H1065.3V663.2H1066.9V657.8H1068.5V651.3H1070.1V661.5H1071.7V660.2H1073.3V657.6H1074.9V654.7H1076.5V663.8H1078.1V671.8H1079.7V668.4H1081.3V672.9H1082.9V679.5H1084.5V678.5H1086.1V677.5H1087.7V676.9H1089.3V671.2H1090.9V665.8H1092.5V666.9H1094.1V668.4H1095.7V663.7H1097.3V661.5H1098.9V673.5H1100.5V662.4H1102.1V673.5H1103.7V668.5H1105.3V660.7H1106.9V667.6H1108.5V673.5H1110.1V670.1H1111.7V679.2H1113.3V685.5H1114.9V686.1H1116.5V686.3H1118.1V665H1119.7V672.1H1121.3V683.8H1122.9V676.5H1124.5V668.4H1126.1V662.3H1127.7V657.3H1129.3V665H1130.9V664.7H1132.5V664.1H1134.1V673H1135.7V682.1H1137.3V673.5H1138.9V679H1140.5V683.8H1142.1V680.7H1143.7V678.6H1145.3V678.9H1146.9V675.1H1148.5V672.1H1150.1V666.5H1151.7V663.5H1153.3V651.5H1154.9V650.2H1156.5V649H1158.1V655H1159.7V655.6H1161.3V656.7H1162.9V668.8H1164.5V675.5H1166.1V688.3H1167.7V679.9H1169.3V672.1H1170.9V685.7H1172.5V684.4H1174.1V682.3H1175.7V677.4H1177.3V672.1H1178.9V670.6H1180.5V668.6H1182.1V668.4H1183.7V668.1H1185.3V667.8H1186.9V666.1H1188.5V665.2H1190.1V653.2H1191.7V651.5H1193.3V649H1194.9V652.5H1196.5V656.7H1198.1V660.3H1199.7V663.5H1201.3V667.3H1202.9V671.2H1204.5V673.8H1206.1V674.8H1207.7V675.5H1209.3V665.2H1210.9V672.7H1212.5V682.3H1214.1V670.3H1215.7V663.5H1217.3V665.4H1218.9V669.1H1220.5V672.1H1222.1V678.9H1223.7V681.6H1225.3V686.6H1226.9V679.8H1228.5V675.5H1230.1V678.9H1231.7V682.2H1233.3V685.7H1234.9V677.2H1236.5V676.6H1238.1V675.5H1239.7V661.8H1241.3V655H1242.9V662.8H1244.5V670.3H1246.1V677.2H1247.7V665.2H1249.3V652.9H1250.9V641.3H1252.5V631.9H1254.1V658.4H1255.7V668.6H1257.3V670.3H1258.9V674.6H1260.5V680.6H1262.1V677.2H1263.7V675.5H1265.3V677.2H1266.9V671.9H1268.5V668.6H1270.1V665.2H1271.7V663.1H1273.3V660.1H1274.9V668H1276.5V672.1H1278.1V688.3H1279.7V681.5H1281.3V675.5H1282.9V663.5H1284.5V670.3H1286.1V668.5H1287.7V665.2H1289.3V670.4H1290.9V673.8H1292.5V678.2H1294.1V680.6H1295.7V689.1H1297.3V684.4H1298.9V677.2H1300.5V688.3H1302.1V683.3H1303.7V675.5H1305.3V672.8H1306.9V670.3H1308.5V665.2H1310.1V678.9H1311.7V675.9H1313.3V670.3H1314.9V672.4H1316.5V673.8H1318.1V668.6H1319.7V668H1321.3V666.9H1322.9V663H1324.5V656.7H1326.1V650.7H1327.7V657.2H1329.3V661.8H1330.9V663.5H1332.5V661.6H1334.1V659.2H1335.7V666H1337.3V672.1H1338.9V676.3H1340.5V678.9H1342.1V676.1H1343.7V674.6H1345.3V674.9H1346.9V675.2H1348.5V675.5H1350.1V678.9H1351.7V662.6H1353.3V670.8H1354.9V678.9H1356.5V661.8H1358.1V669.3H1359.7V678.9H1361.3V678.5H1362.9V678.2H1364.5V678H1366.1V677.5H1367.7V677.2H1369.3V676.1H1370.9V675.5H1372.5V669.4H1374.1V664.4H1375.7V670.4H1377.3V673.8H1378.9V672.6H1380.5V672.1H1382.1V684.9H1383.7V679.1H1385.3V671.2H1386.9V676.4H1388.5V678.9H1390.1V682.3H1391.7V669.5H1393.3V677.2H1394.9V667.4H1396.5V655.8H1398.1V649.8H1399.7V645.9H1401.3V637.9H1402.9V640.8H1404.5V643H1406.1V649.8H1407.7V653.9H1409.3V661.8H1410.9V659.4H1412.5V655.4H1414.1V653.2H1415.7V655H1417.3V655.8H1418.9V658.4H1420.5V660.3H1422.1V648.4H1423.7V643.2H1425.3V656.9H1426.9V670.6H1428.5V670.1H1430.1V668.9H1431.7V672.7H1433.3V675.7H1434.9V678.8H1436.5V680.9H1438.1V667.2H1439.7V656.9H1441.3V659.7H1442.9V662.1H1444.5V670.6H1446.1V653.5H1447.7V645.2H1449.3V638.1H1450.9V648.4H1452.5V644.7H1454.1V643.2H1455.7V631.3H1457.3V632.2H1458.9V633H1460.5V625.3H1462.1V631.5H1463.7V638.1H1465.3V614.2H1466.9V613.6H1468.5V612.5H1470.1V623.1H1471.7V629.6H1473.3V622.7H1474.9V636.4H1476.5V631.4H1478.1V621H1479.7V625.8H1481.3V629.6H1482.9V641.5H1484.5V656.9H1486.1V667.2H1487.7V668.9H1489.3V671.5H1490.9V664.2H1492.5V660.3H1494.1V647.5H1495.7V648H1497.3V648.4H1498.9V637.3H1500.5V643.7H1502.1V653.5H1503.7V648H1505.3V645H1506.9V648.4H1508.5V649.3H1510.1V650.1H1511.7V662.9H1513.3V663.2H1514.9V663.8H1516.5V659.4H1518.1V656.9H1519.7V643.2H1521.3V642.4H1522.9V641.5H1524.5V644H1526.1V645.8H1527.7V636.1H1529.3V631.3H1530.9V633.6H1532.5V634.7H1534.1V651.8H1535.7V643.9H1537.3V630.4H1538.9V645H1540.5V652.3H1542.1V657.8H1543.7V636.4H1545.3V628.7H1546.9V635H1548.5V639.8H1550.1V639.8H1551.7V638.3H1553.3V635.6H1554.9V622H1556.5V613.3H1558.1V636.4H1559.7V638.7H1561.3V640.7H1562.9V624.4H1564.5V620.2H1566.1V609.9H1567.7V615.4H1569.3V622.7H1570.9V638.1H1572.5V629.2H1574.1V619.3V612.5H1575.7V621.7H1577.3V633H1578.9V628.3H1580.5V626.2H1582.1V601.4H1583.7V607.9H1585.3V614.2H1586.9V618.1H1588.5V621H1590.1V611.9H1591.7V607.4H1593.3V617.6H1594.9V638.1H1596.5V650.1H1598.1V634.7H1599.7V634.7H1601.3V634.7H1602.9V633H1604.5V632.1H1606.1V644.1H1607.7V630.4H1609.3V644.1H1610.9V640.1H1612.5V633H1614.1V624.4H1615.7V627.7H1617.3V634.7H1618.9V619.1H1620.5V607.4H1622.1V624.4H1623.7V617.1H1625.3V602.2H1626.9V619.3H1628.5V623.3H1630.1V632.1H1631.7V633.1H1633.3V633.8H1634.9V621H1636.5V619.2H1638.1V616.8H1639.7V613.8H1641.3V612.5H1642.9V607.4H1644.5V608.8H1646.1V609.9H1647.7V603.9H1649.3V596.4H1650.9V588.5V612.5H1652.5V616.4H1654.1V620.2H1655.7V615.9H1657.3V621.9H1658.9V636.4H1660.5V633.3H1662.1V629.6H1663.7V639.8H1665.3V646.1H1666.9V649.2H1668.5V643.2H1670.1V641.9H1671.7V640.7H1673.3V634.7H1674.9V645.8H1676.5V631.3H1678.1V635.8H1679.7V643.2H1681.3V619.3H1682.9V606.5H1684.5V604.9H1686.1V602.2H1687.7V601.2H1689.3V599.6H1690.9V598H1692.5V597.1" fill="none" stroke="#0a8a14" stroke-width="1.3" stroke-linejoin="miter" stroke-miterlimit="2"/>
<path d="M876.5 415.4H878.1V417.2H879.7V419.7H881.3V420.7H882.9V422.3H884.5V423.9H886.1V426.5H887.7V429.2H889.3V432.5H890.9V437.2H892.5V441V459.8H894.1V482.1H895.7V499.1V531.6H897.3V540.8H898.9V551.3H900.5V559.8H902.1V571.3H903.7V582.1H905.3V586H906.9V588.9H908.5V596.8H910.1V606.8H911.7V595.8H913.3V575.2H914.9V549.6H916.5V582.1H918.1V614.5H919.7V603.4H921.3V585.5H922.9V579H924.5V575.2H926.1V585.5H927.7V594.9H929.3V604.3H930.9V575.2H932.5V564.1H934.1V573.5H935.7V580.3H937.3V565.8H938.9V585.5H940.5V602.6H942.1V571.8H943.7V570.4H945.3V568.4H946.9V577.3H948.5V582.1H950.1V553H951.7V579.2H953.3V602.6H954.9V578.6H956.5V591.5H958.1V604.3H959.7V563.2H961.3V588.9H962.9V592.7H964.5V595.7H966.1V575.2H967.7V609.4H969.3V616.1H970.9V626.5H972.5V598.1H974.1V582.1H975.7V551.3H977.3V571.8H978.9V583.8H980.5V535H982.1V542.6H983.7V554.7H985.3V549.6H986.9V558.7H988.5V568.4H990.1V609.4H991.7V643.6H993.3V595.7H994.9V589.9H996.5V580.3H998.1V595.3H999.7V604.3H1001.3V588.6H1002.9V580.3H1004.5V562.2H1006.1V549.6H1007.7V588.9H1009.3V587.8H1010.9V585.5H1012.5V580.6H1014.1V576.9H1015.7V588.5H1017.3V595.7H1018.9V613.8H1020.5V636.8H1022.1V625.9H1023.7V602.6H1025.3V588.1H1026.9V576.9H1028.5V592.3H1030.1V586.3H1031.7V578.6H1033.3V568.5H1034.9V559H1036.5V563.2H1038.1V568.4H1039.7V586.9H1041.3V604.3H1042.9V578.6H1044.5V589.5H1046.1V600.9H1047.7V603H1049.3V604.3H1050.9V573.5H1052.5V571.8H1054.1V594.7H1055.7V617.9H1057.3V558.1H1058.9V544.1H1060.5V524.8H1062.1V529.8H1063.7V532.5H1065.3V580.3H1066.9V544.4H1068.5V563.2H1070.1V570.5H1071.7V582.6H1073.3V595.7H1074.9V560.3H1076.5V534.2H1078.1V540.5H1079.7V544.4H1081.3V549.6H1082.9V539.5H1084.5V527.4H1086.1V575.2H1087.7V542.7H1089.3V529.7H1090.9V517.9H1092.5V549.6H1094.1V553.3H1095.7V556.4H1097.3V571.6H1098.9V586.4H1100.5V595.7H1102.1V585.9H1103.7V580.3H1105.3V570.5H1106.9V562.5H1108.5V554.7H1110.1V561.2H1111.7V565H1113.3V556.4H1114.9V569.5H1116.5V582.1H1118.1V554.7H1119.7V568.8H1121.3V583.8H1122.9V578.4H1124.5V575.2H1126.1V598.8H1127.7V611.1H1129.3V615.9H1130.9V617.9H1132.5V565H1134.1V580.6H1135.7V595.3H1137.3V604.3H1138.9V574H1140.5V546.2H1142.1V554.6H1143.7V565H1145.3V553.5H1146.9V555.2H1148.5V596.2H1150.1V587.7H1151.7V597.1H1153.3V603.1H1154.9V586H1156.5V591.1H1158.1V584.3H1159.7V575.7H1161.3V572.3H1162.9V568H1164.5V558.6H1166.1V529.6H1167.7V533.1H1169.3V536.4H1170.9V551.8H1172.5V545H1174.1V553.3H1175.7V568.9H1177.3V597.7H1178.9V617.3H1180.5V579.1H1182.1V578.7H1183.7V578.3H1185.3V607.4H1186.9V601.3H1188.5V589.4H1190.1V576.3H1191.7V567.2H1193.3V575.7H1194.9V589.4H1196.5V580.9H1198.1V568.9H1199.7V542.8H1201.3V529.6H1202.9V512.5H1204.5V507H1206.1V502.2H1207.7V494.5H1209.3V545H1210.9V548.1H1212.5V553.5H1214.1V558.8H1215.7V562.1H1217.3V568.9H1218.9V550.1H1220.5V570.6H1222.1V574H1223.7V579.1H1225.3V576.9H1226.9V575.7H1228.5V565.5H1230.1V577.4H1231.7V579.9H1233.3V582.6H1234.9V599.7H1236.5V605.5H1238.1V610.8H1239.7V603H1241.3V599.7H1242.9V592.8H1244.5V597.9H1246.1V591.4H1247.7V582.6H1249.3V591.1H1250.9V566.5H1252.5V548.4H1254.1V565.5H1255.7V577.1H1257.3V596.2H1258.9V579.8H1260.5V556.9H1262.1V514.2H1263.7V477.3V514.2H1265.3V531.2H1266.9V545H1268.5V580.9H1270.1V581.4H1271.7V582.6H1273.3V592.3H1274.9V612.5H1276.5V599.6H1278.1V589.4H1279.7V582.6H1281.3V572.5H1282.9V562.1H1284.5V586H1286.1V596.2H1287.7V605.6H1289.3V612.5H1290.9V589.4H1292.5V562.1H1294.1V596.2H1295.7V572.3H1297.3V573.7H1298.9V575.7H1300.5V586.7H1302.1V592.8H1303.7V597.9H1305.3V605.9H1306.9V613.3H1308.5V599.7H1310.1V613.6H1311.7V621.5H1313.3V589.4H1314.9V587.4H1316.5V586H1318.1V582.7H1319.7V580.9H1321.3V589.4H1322.9V592H1324.5V596.2H1326.1V582.6H1327.7V576.6H1329.3V572.3H1330.9V574H1332.5V560.7H1334.1V545H1335.7V521.9H1337.3V536.4H1338.9V550.1H1340.5V586H1342.1V563.8H1343.7V555.4H1345.3V546.7H1346.9V568.9H1348.5V568.3H1350.1V567.2H1351.7V576.6H1353.3V582.6H1354.9V587H1356.5V589.4H1358.1V596.2H1359.7V588.8H1361.3V577.4H1362.9V609.1H1364.5V589.7H1366.1V570.6H1367.7V595.7H1369.3V609.9H1370.9V604H1372.5V599.7H1374.1V597H1375.7V594.5H1377.3V599.6H1378.9V603.1H1380.5V572.3H1382.1V564.3H1383.7V555.2H1385.3V582.6H1386.9V584.3H1388.5V586H1390.1V598H1391.7V606.5H1393.3V591.1H1394.9V590.2H1396.5V589.4H1398.1V601.4H1399.7V588.9H1401.3V582.6H1402.9V565.5H1404.5V538.1H1406.1V533.9H1407.7V529.6H1409.3V497.1V462.9H1410.9V449.2H1412.5V456H1414.1V459.5H1415.7V445.8H1417.3V450.3H1418.9V454.4H1420.5V435.9H1422.1V449.6H1423.7V447.9H1425.3V458.1H1426.9V489.9H1428.5V494.2H1430.1V503.6H1431.7V524.7H1433.3V541.2H1434.9V566.8H1436.5V592.5H1438.1V587.9H1439.7V583.1H1441.3V602.7H1442.9V597.6H1444.5V594.2H1446.1V570.3H1447.7V563.4H1449.3V576.8H1450.9V590.8H1452.5V554.9H1454.1V535.5H1455.7V524.1H1457.3V510.4H1458.9V545.5H1460.5V534.4H1462.1V496.8H1463.7V468.4H1465.3V434.2H1466.9V417.1H1468.5V402.9H1470.1V392.6H1471.7V344.8H1473.3V341.7H1474.9V337.9H1476.5V355V399.5H1478.1V413H1479.7V427.4H1481.3V439.3H1482.9V476.9H1484.5V476.1H1486.1V475.2H1487.7V482.1H1489.3V502.6V548H1490.9V555.7H1492.5V561.7H1494.1V595.9H1495.7V589.1H1497.3V580.1H1498.9V570.3H1500.5V537.8H1502.1V533H1503.7V524.1H1505.3V516.9H1506.9V512.1H1508.5V536.1H1510.1V519H1511.7V527H1513.3V537.8H1514.9V551.6H1516.5V558.3H1518.1V580.5H1519.7V558.3H1521.3V555.7H1522.9V553.2H1524.5V524.1V504.3H1526.1V483.8H1527.7V488.9H1529.3V499.1H1530.9V506.1H1532.5V511.1H1534.1V488.9H1535.7V490.4H1537.3V492.3H1538.9V516.2H1540.5V506.2H1542.1V485.5H1543.7V509.4H1545.3V522.1H1546.9V533.3V485.5H1548.5V451.3H1550.1V430.8H1551.7V408.5H1553.3V382.4H1554.9V360.5H1556.5V334.5H1558.1V321.7H1559.7V325.5H1561.3V331.1V361.9H1562.9V392.6H1564.5V396.3H1566.1V399.5H1567.7V399.5H1569.3V391.8H1570.9V385.8H1572.5V409.6V451.3V492.3H1574.1V503H1575.7V517.1H1577.3V495.7H1578.9V465H1580.5V502.6H1582.1V499.7H1583.7V497.4V468.4H1585.3V425.6H1586.9V417.1H1588.5V432.5H1590.1V431.3H1591.7V429.1H1593.3V405.7H1594.9V389.2H1596.5V401V427.4H1598.1V451.3H1599.7V456.4H1601.3V425.6H1602.9V417.7H1604.5V409.6H1606.1V422.2H1607.7V458.1H1609.3V468.4H1610.9V487.2H1612.5V480.9H1614.1V471.8H1615.7V480.7H1617.3V485.5H1618.9V482.1H1620.5V468.4H1622.1V457.6H1623.7V446.2H1625.3V475.2H1626.9V456.4H1628.5V470.8H1630.1V478.6H1631.7V488.9H1633.3V507.7H1634.9V519.7H1636.5V495.7H1638.1V489.7H1639.7V480.1H1641.3V475.2H1642.9V466.7H1644.5V472.3H1646.1V476.9H1647.7V463.2H1649.3V483.8H1650.9V446.2H1652.5V459.2H1654.1V471.8H1655.7V495.7H1657.3V500.9H1658.9V501.7H1660.5V502.6H1662.1V516.2H1663.7V546.3H1665.3V551.4H1666.9V561.7H1668.5V566.7H1670.1V570.3H1671.7V542.9H1673.3V546H1674.9V549.7H1676.5V556.6H1678.1V562.7H1679.7V575.4H1681.3V541.2H1682.9V565.1H1684.5V549.3H1686.1V532.6H1687.7V520.7H1689.3V507H1690.9V506H1692.5V506" fill="none" stroke="#1a6fe0" stroke-width="1.3" stroke-linejoin="miter" stroke-miterlimit="2"/>
<path d="M876.5 443.6H878.1V463.2H879.7V468.4H881.3V475.2H882.9V468.4H884.5V480.7H886.1V494H887.7V458.1H889.3V455.6H890.9V468.4H892.5V507.7H894.1V499.3H895.7V492.3H897.3V488.9H898.9V516.2H900.5V507.7H902.1V524.9H903.7V545.3H905.3V525.9H906.9V508.5H908.5V502.6H910.1V512.8H911.7V520.5H913.3V502.5H914.9V492.3H916.5V535H918.1V519.7H919.7V530.8H921.3V509.4H922.9V512.8H924.5V504.1H926.1V492.3H927.7V511.1H929.3V540.2H930.9V533.1H932.5V523.1H934.1V516.8H935.7V513.7H937.3V527.7H938.9V534.2H940.5V516.2H942.1V531.3H943.7V549.6H945.3V539.3H946.9V546.8H948.5V554.7H950.1V523.1H951.7V506H953.3V494H954.9V506H956.5V497.1H958.1V492.3V493.2H959.7V504.9H961.3V517.9H962.9V501.7H964.5V517.9H966.1V539.7H967.7V578.6H969.3V560.9H970.9V533.3H972.5V517.9H974.1V527.1H975.7V533.3H977.3V528.2H978.9V532.5H980.5V523.1H982.1V514.5H983.7V500.9H985.3V522.5H986.9V535H988.5V541.9H990.1V541H991.7V526.5H993.3V540H994.9V547.5H996.5V559.8H998.1V580.6H999.7V593.2H1001.3V553.8H1002.9V546.6H1004.5V539.3H1006.1V550.8H1007.7V559.8H1009.3V544.6H1010.9V536.8H1012.5V516.5H1014.1V502.6H1015.7V521.4H1017.3V528.2H1018.9V557.3H1020.5V544.3H1022.1V521.4H1023.7V541.9H1025.3V547.3H1026.9V554.7H1028.5V541.5H1030.1V517.9H1031.7V541.9H1033.3V547.6H1034.9V558.1H1036.5V526.5H1038.1V512.2H1039.7V500.9H1041.3V498.8H1042.9V497.4H1044.5V539.3H1046.1V520H1047.7V490.6H1049.3V509.4H1050.9V523.1H1052.5V530H1054.1V536.8H1055.7V506H1057.3V495.3H1058.9V488H1060.5V499.1H1062.1V511.1H1063.7V499.4H1065.3V492.3H1066.9V511.1H1068.5V523.1H1070.1V496.6H1071.7V499.7H1073.3V506H1074.9V523.1H1076.5V532.5H1078.1V517.9H1079.7V532H1081.3V547.9H1082.9V544.7H1084.5V539.3H1086.1V533.3H1087.7V530.1H1089.3V526.6H1090.9V523.9H1092.5V534.2H1094.1V528.1H1095.7V523.1H1097.3V533H1098.9V543.6H1100.5V517.1H1102.1V523.7H1103.7V529.9H1105.3V525.6H1106.9V536.3H1108.5V553H1110.1V561.2H1111.7V565.8H1113.3V548H1114.9V535.5H1116.5V525.6H1118.1V549.6H1119.7V547.3H1121.3V543.6H1122.9V532.8H1124.5V522.2H1126.1V509.4H1127.7V510.3H1129.3V524.8H1130.9V544.7H1132.5V563.2H1134.1V542.8H1135.7V532.5H1137.3V546.5H1138.9V553H1140.5V534.2H1142.1V546.2H1143.7V529.9H1145.3V526.2H1146.9V511.9H1148.5V500.5H1150.1V490H1151.7V479.1H1153.3V490.3H1154.9V498.8H1156.5V507.4H1158.1V492.8H1159.7V522.7H1161.3V548.4H1162.9V548.4H1164.5V548.4H1166.1V541.7H1167.7V536.4H1169.3V553.5H1170.9V564.6H1172.5V551.8H1174.1V547H1175.7V538.1H1177.3V543.2H1178.9V546.7H1180.5V540.2H1182.1V536.4H1183.7V529.6H1185.3V524.4H1186.9V503.2H1188.5V492.8H1190.1V488.7H1191.7V486.8H1193.3V482.6H1194.9V480H1196.5V497.1H1198.1V517.6H1199.7V526.7H1201.3V531.3H1202.9V521H1204.5V529.6H1206.1V526.2H1207.7V522.7H1209.3V538.1H1210.9V535.6H1212.5V531.3H1214.1V518.7H1215.7V510.8H1217.3V526.2H1218.9V531.1H1220.5V536.4H1222.1V548.4H1223.7V550.2H1225.3V553.5H1226.9V551.2H1228.5V548.4H1230.1V543H1231.7V538.1H1233.3V533H1234.9V543.2H1236.5V533.7H1238.1V515.9H1239.7V500.5H1241.3V515.7H1242.9V527.9H1244.5V539.8H1246.1V525.2H1247.7V505.6H1249.3V461.2H1250.9V458.6H1252.5V490.3H1254.1V510.8H1255.7V538.1H1257.3V541.3H1258.9V545H1260.5V555.2H1262.1V556.4H1263.7V558.6H1265.3V545.7H1266.9V536.4H1268.5V541.5H1270.1V538H1271.7V531.3H1273.3V538.8H1274.9V551.8H1276.5V560.2H1278.1V565.5H1279.7V536.4H1281.3V530.6H1282.9V524.4H1284.5V545H1286.1V538.2H1287.7V526.2H1289.3V539.7H1290.9V548.4H1292.5V555.2H1294.1V561.8H1295.7V568.9H1297.3V560.3H1298.9V570.8H1300.5V586H1302.1V560.3H1303.7V558.1H1305.3V556.9H1306.9V531.3H1308.5V529.1H1310.1V524.4H1311.7V530.9H1313.3V543.2H1314.9V541.2H1316.5V539.8H1318.1V522.7H1319.7V519.6H1321.3V515.9H1322.9V529.6H1324.5V513.2H1326.1V497.1H1327.7V493.7H1329.3V507.4H1330.9V541.5H1332.5V534.5H1334.1V526.2H1335.7V509.1H1337.3V518.3H1338.9V527.9H1340.5V539.8H1342.1V537.8H1343.7V534.7H1345.3V540.8H1346.9V548.4H1348.5V556.9H1350.1V548.2H1351.7V529.6H1353.3V545.1H1354.9V556.9H1356.5V545H1358.1V550.6H1359.7V562.1H1361.3V558.4H1362.9V551.8H1364.5V548.7H1366.1V545H1367.7V550.3H1369.3V555.2H1370.9V536.4H1372.5V526.4H1374.1V510.8H1375.7V536.4H1377.3V538.4H1378.9V539.8H1380.5V543.2H1382.1V548.8H1383.7V555.2H1385.3V539.8H1386.9V542H1388.5V546H1390.1V548.4H1391.7V526.2H1393.3V527.9H1394.9V529.6H1396.5V503.9H1398.1V485.1H1399.7V478.3H1401.3V471.5H1402.9V440.7H1404.5V432.1H1406.1V466.3H1407.7V447.5H1409.3V462.9H1410.9V445.8H1412.5V450.2H1414.1V459.5H1415.7V453.6H1417.3V449.2H1418.9V450.6H1420.5V451.3H1422.1V468.4H1423.7V458.1H1425.3V482.1H1426.9V502.6H1428.5V510.6H1430.1V519.7H1431.7V533.3H1433.3V537.8H1434.9V541.9H1436.5V546.3H1438.1V535.6H1439.7V519H1441.3V511.3H1442.9V507H1444.5V519H1446.1V513.8H1447.7V500.2V482.1H1449.3V470.1H1450.9V474.7H1452.5V482.1H1454.1V477.7H1455.7V475.2H1457.3V446.2H1458.9V441H1460.5V436.3H1462.1V430.8H1463.7V425.6H1465.3V421.4H1466.9V417.1H1468.5V380.7H1470.1V385.8H1471.7V417.1H1473.3V434.2H1474.9V447.9H1476.5V452.4H1478.1V456.4H1479.7V453.3H1481.3V451.3H1482.9V471.8H1484.5V495.7H1486.1V507H1487.7V525.8H1489.3V524H1490.9V520.7H1492.5V519.6H1494.1V519H1495.7V502.6H1497.3V492.3H1498.9V482.1H1500.5V478H1502.1V471.8H1503.7V475.2H1505.3V509.4H1506.9V499.9H1508.5V492.3H1510.1V502.6H1511.7V508.4H1513.3V516.2V532.6H1514.9V526.8H1516.5V515.6H1518.1V511.9H1519.7V509.4H1521.3V492.3H1522.9V475.2H1524.5V478.1H1526.1V482.1H1527.7V484.3H1529.3V485.5H1530.9V488.9H1532.5V485.2H1534.1V482.1H1535.7V492.3H1537.3V478.2H1538.9V458.1H1540.5V476.9H1542.1V482.2H1543.7V485.5H1545.3V504.3H1546.9V451.3H1548.5V430.8H1550.1V437.6H1551.7V465H1553.3V461.7H1554.9V454.7H1556.5V425.6H1558.1V397.8H1559.7V425.6H1561.3V456.4H1562.9V455.1H1564.5V453H1566.1V425.6H1567.7V408.5H1569.3V399.5H1570.9V434.2H1572.5V451.3H1574.1V476.9H1575.7V456.4H1577.3V442.2H1578.9V429.1H1580.5V459.8H1582.1V451.3H1583.7V434.2H1585.3V410.3H1586.9V387.5H1588.5V409.6H1590.1V408.4H1591.7V407.9H1593.3V406.8H1594.9V417H1596.5V425.6H1598.1V463.2H1599.7V451.3H1601.3V458.1H1602.9V446.3H1604.5V434.2H1606.1V420.5H1607.7V451.3H1609.3V461.5H1610.9V465H1612.5V488.9H1614.1V495.7H1615.7V485.8H1617.3V475.2H1618.9V447.9H1620.5V444.4H1622.1V420.5H1623.7V416.4H1625.3V423.5H1626.9V434.2H1628.5V422.7H1630.1V416.4H1631.7V442.7H1633.3V459.8H1634.9V467.2H1636.5V475.2H1638.1V465H1639.7V457.8H1641.3V451.3H1642.9V446.5H1644.5V444.4H1646.1V430.8H1647.7V416.2H1649.3V439.3H1650.9V438H1652.5V435.9H1654.1V420.5H1655.7V441H1657.3V465H1658.9V464.1H1660.5V463.2H1662.1V456.4H1663.7V482.1H1665.3V499.1H1666.9V487.2H1668.5V509.4H1670.1V518.6H1671.7V526.5H1673.3V529.9H1674.9V517.3H1676.5V505.3H1678.1V524.1H1679.7V541.2H1681.3V526.5H1682.9V515.6H1684.5V546.3H1686.1V529.2H1687.7V549.7H1689.3V507V444.4H1690.9V438H1692.5V430.8" fill="none" stroke="#ff1010" stroke-width="1.3" stroke-linejoin="miter" stroke-miterlimit="2"/>
<path d="M878.5 142.2H880.1V143.2H881.7V144.4H883.3V145.8H884.9V147.4H886.5V148.7H888.1V151.5H889.7V153.8H891.3V158.9V174.3V191.4H892.9V193.2H894.5V194.8H896.1V200V217.1V234.1H897.7V254.7V271.8V300.8H899.3V299.2H900.9V297.4H902.5V275.1H904.1V283.7H905.7V311V300.8H907.3V310.5H908.9V330.7H910.5V321.8H912.1V305.8H913.7V296.5H915.3V316.2H916.9V322.2H918.5V324.7H920.1V305.9H921.7V333.2H923.3V325.3H924.9V318.7H926.5V330.7H928.1V326.4H929.7V321.3H931.3V297.4H932.9V316.2H934.5V332.7H936.1V354.6H937.7V331.5H939.3V326.7H940.9V321.3H942.5V343.5H944.1V351.5H945.7V358H947.3V344.4H948.9V376H950.5V372.1H952.1V369.1H953.7V382.8H955.3V355.5H956.9V326.4H958.5V324.1H960.1V322.1V335H961.7V329.5H963.3V318.7H964.9V311.9V329.8H966.5V327.1H968.1V321.3H969.7V326.4H971.3V352.1H972.9V400.8H974.5V386.9H976.1V369.1H977.7V351.2H979.3V353.3H980.9V358H982.5V352.3H984.1V347.8H985.7V350.3H987.3V345.2H988.9V318.7H990.5V331.6H992.1V343.5H993.7V380.3H995.3V367.9H996.9V350.3H998.5V372.6H1000.1V387.8H1001.7V408.5H1003.3V421H1004.9V433.3H1006.5V405.1H1008.1V394.8H1009.7V385.5H1011.3V372.6H1012.9V387.1H1014.5V382.9H1016.1V376H1017.7V368H1019.3V360.6H1020.9V384.5H1022.5V387.9H1024.1V399.9H1025.7V412H1027.3V415.1H1028.9V417.9H1030.5V417.1H1032.1V416.1H1033.7V415.2H1035.3V414.5H1036.9V401.7V391.4H1038.5V410.2H1040.1V429.1H1041.7V400H1043.3V389.7H1044.9V360.9H1046.5V346.9H1048.1V360.6H1049.7V376H1051.3V391.4H1052.9V371.7H1054.5V389.7H1056.1V410.9H1057.7V432.5V415.4H1059.3V432.5H1060.9V400H1062.5V362.3H1064.1V370.9H1065.7V375.5H1067.3V387.1H1068.9V379.4H1070.5V387.9H1072.1V371.7H1073.7V372.1H1075.3V372.6H1076.9V377.7H1078.5V387.9H1080.1V398.2H1081.7V425.6H1083.3V441H1084.9V446.2H1086.5V452.5H1088.1V470.1H1089.7V460H1091.3V442.7H1092.9V456.4H1094.5V441.7H1096.1V425.7H1097.7V417.1V444.4H1099.3V463.2H1100.9V458.1H1102.5V465.5H1104.1V478.6H1105.7V448.7H1107.3V468.5H1108.9V483.8H1110.5V465H1112.1V495.7H1113.7V503.5H1115.3V517.9H1116.9V511.4H1118.5V502.6H1120.1V482.1H1121.7V495.7H1123.3V513.9H1124.9V526.5H1126.5V473.5H1128.1V464.8H1129.7V459H1131.3V485.5H1132.9V494.9H1134.5V502.6H1136.1V509.4H1137.7V513.7H1139.3V519.7H1140.9V521.9H1142.5V523.1H1144.1V502.6H1145.7V510.8H1147.3V529.9V526.7H1148.9V516.4H1150.5V492.5H1152.1V482.2H1153.7V474.5H1155.3V463.4H1156.9V443.1H1158.5V432.6H1160.1V426H1161.7V446.3H1163.3V478.8H1164.9V487.4H1166.5V499.3H1168.1V548.4H1169.7V551.6H1171.3V555.2H1172.9V502.2H1174.5V531.3H1176.1V536.4H1177.7V525.9H1179.3V512.5H1180.9V509.1H1182.5V522.1H1184.1V531.3H1185.7V541.5H1187.3V514.2H1188.9V500H1190.5V490.3V432.1H1192.1V408.5H1193.7V413.4H1195.3V416.8H1196.9V440.7H1198.5V468H1200.1V502.2H1201.7V510.8H1203.3V502.2H1204.9V478.3H1206.5V481.7H1208.1V483.4H1209.7V488.5H1211.3V507.4H1212.9V545H1214.5V545.8H1216.1V514.2H1217.7V505.3H1219.3V490.3H1220.9V527.9H1222.5V560.3H1224.1V570.4H1225.7V579.1H1227.3V568.9H1228.9V564.7H1230.5V558.6H1232.1V562H1233.7V563.8H1235.3V546.7H1236.9V536.8H1238.5V527.9H1240.1V531.3H1241.7V522.4H1243.3V509.1H1244.9V498.6H1246.5V492.8H1248.1V502.2H1249.7V497.6H1251.3V490.3H1252.9V478.4H1254.5V462.9H1256.1V451.8H1257.7V464.3H1259.3V471.5H1260.9V510.8H1262.5V523H1264.1V534.7H1265.7V512.5H1267.3V548.4H1268.9V549H1270.5V550.1H1272.1V514.2H1273.7V524.4H1275.3V493.8H1276.9V471.5H1278.5V505.6H1280.1V541.5H1281.7V555.2H1283.3V535H1284.9V522.7H1286.5V505.6H1288.1V497.1H1289.7V522.7H1291.3V521.9H1292.9V521H1294.5V527.1H1296.1V529.6H1297.7V539.8H1299.3V550.7H1300.9V560.3H1302.5V534.7H1304.1V540.2H1305.7V548.4H1307.3V529.6H1308.9V510.8H1310.5V518.5H1312.1V524.4H1313.7V505.6H1315.3V497.5H1316.9V486.8H1318.5V506.7H1320.1V515.9H1321.7V524.4H1323.3V502.6H1324.9V485.1H1326.5V492H1328.1V483.4H1329.7V477.4H1331.3V492H1332.9V512.5H1334.5V496.8H1336.1V486H1337.7V500.5H1339.3V490.3H1340.9V512.5H1342.5V512.5H1344.1V512.5H1345.7V524.2H1347.3V531.3H1348.9V551.8H1350.5V546.7H1352.1V538.1H1353.7V533.9H1355.3V524.4H1356.9V518H1358.5V504.8H1360.1V526.2H1361.7V541.5H1363.3V526.2H1364.9V538.1H1366.5V556H1368.1V582.6H1369.7V564.7H1371.3V555.2H1372.9V541.4H1374.5V534.7H1376.1V539.8H1377.7V530.8H1379.3V517.9H1380.9V508.2H1382.5V527.9H1384.1V563.8H1385.7V559.5H1387.3V553.5H1388.9V544.6H1390.5V534.7H1392.1V526.2H1393.7V538.2H1395.3V568H1396.9V552.5H1398.5V536.4H1400.1V497.1H1401.7V462.9H1403.3V428.7H1404.9V412.5H1406.5V418.8H1408.1V421.9H1409.7V420.2H1411.3V440.7H1412.9V457.8H1414.5V490.3H1416.1V497.1H1417.7V492H1419.3V483.4V482.1H1420.9V504.3H1422.5V480.8H1424.1V456.4H1425.7V459.8H1427.3V492.3H1428.9V500.9H1430.5V509.4H1432.1V535H1433.7V558.3H1435.3V561H1436.9V566.8H1438.5V552.3H1440.1V541.2H1441.7V546.3H1443.3V555.7H1444.9V572H1446.5V556.4H1448.1V546.3H1449.7V530.9H1451.3V551.5H1452.9V535.6H1454.5V520.7H1456.1V498.5V485.5H1457.7V444.4H1459.3V436.2H1460.9V420.5H1462.5V399.5H1464.1V419.8H1465.7V409.6H1467.3V379H1468.9V320.9H1470.5V297.8H1472.1V315.7H1473.7V332.8H1475.3V358.5H1476.9V397.8H1478.5V468.4H1480.1V508.5V456.4H1481.7V446.8H1483.3V433.3H1484.9V468.4H1486.5V473.7H1488.1V476.9V519.7H1489.7V548H1491.3V529.2H1492.9V531.2H1494.5V532.6V502.6H1496.1V495.1H1497.7V482.1H1499.3V488.9H1500.9V477.2H1502.5V468.4H1504.1V458.1H1505.7V458.6H1507.3V459V482.1H1508.9V487.5H1510.5V497.4H1512.1V504.7H1513.7V509.4H1515.3V516.2H1516.9V509.4V487.2H1518.5V509.4H1520.1V493.4H1521.7V468.4H1523.3V450.6H1524.9V436.8H1526.5V468.4H1528.1V465H1529.7V453.9H1531.3V444.4H1532.9V468.4H1534.5V471.8H1536.1V472.8H1537.7V473.5H1539.3V495.7H1540.9V519.7H1542.5V574.5H1544.1V567H1545.7V556.6H1547.3V541.2V488.9H1548.9V442.7H1550.5V416.4H1552.1V406.2H1553.7V393.5H1555.3V385.8H1556.9V365.3H1558.5V361.9H1560.1V341.4H1561.7V355H1563.3V379H1564.9V389.8H1566.5V399.5H1568.1V411.3V396.1H1569.7V409.6H1571.3V434.2H1572.9V463.2H1574.5V488.9H1576.1V509.4H1577.7V492.3H1579.3V465H1580.9V469.4H1582.5V475.2H1584.1V442.7H1585.7V413H1587.3V392.6H1588.9V383.1H1590.5V372.1H1592.1V387.5H1593.7V382H1595.3V370.4H1596.9V375.7H1598.5V380.7H1600.1V367.9H1601.7V382.8H1603.3V389.2H1604.9V347.4H1606.5V379H1608.1V392.6H1609.7V429.9H1611.3V468.4H1612.9V511.1H1614.5V535H1616.1V506H1617.7V475.2H1619.3V451.3H1620.9V417.1H1622.5V399.5H1624.1V417.1H1625.7V425.6H1627.3V434.2H1628.9V456.4H1630.5V451.1H1632.1V444.4H1633.7V482.1H1635.3V512.8H1636.9V488.9H1638.5V481.1H1640.1V475.2H1641.7V458.1H1643.3V453H1644.9V446.9H1646.5V437.3H1648.1V432.5H1649.7V451.3H1651.3V480.3H1652.9V476.9H1654.5V457.8H1656.1V441.9V476.9H1657.7V497.4H1659.3V498.6H1660.9V500.9H1662.5V488.9H1664.1V519.7H1665.7V541.2H1667.3V549.2H1668.9V558.3H1670.5V566.8H1672.1V571.5H1673.7V580.5H1675.3V576.5H1676.9V573.7H1678.5V589.1H1680.1V592.6H1681.7V599.3H1683.3V597.8H1684.9V595.9H1686.5V582.2H1688.1V595.9H1689.7V541.2H1691.3V507V490.6H1692.9V490.6" fill="none" stroke="#111111" stroke-width="1.3" stroke-linejoin="miter" stroke-miterlimit="2"/>
<g fill="#000">
<rect x="875" y="74" width="4" height="654.8"/>
<rect x="875" y="725" width="819.4" height="3.8"/>
<rect x="877" y="725" width="12.2" height="3.8"/>
<rect x="877" y="659.9" width="12.2" height="3.8"/>
<rect x="877" y="594.8" width="12.2" height="3.8"/>
<rect x="877" y="529.7" width="12.2" height="3.8"/>
<rect x="877" y="464.6" width="12.2" height="3.8"/>
<rect x="877" y="399.5" width="12.2" height="3.8"/>
<rect x="877" y="334.4" width="12.2" height="3.8"/>
<rect x="877" y="269.3" width="12.2" height="3.8"/>
<rect x="877" y="204.2" width="12.2" height="3.8"/>
<rect x="877" y="139.1" width="12.2" height="3.8"/>
<rect x="877" y="74" width="12.2" height="3.8"/>
<rect x="956.4" y="720.4" width="3.2" height="6"/>
<rect x="1037.8" y="714.8" width="3.6" height="12"/>
<rect x="1119.6" y="720.4" width="3.2" height="6"/>
<rect x="1201" y="714.8" width="3.6" height="12"/>
<rect x="1282.8" y="720.4" width="3.2" height="6"/>
<rect x="1364.2" y="714.8" width="3.6" height="12"/>
<rect x="1446" y="720.4" width="3.2" height="6"/>
<rect x="1527.4" y="714.8" width="3.6" height="12"/>
<rect x="1609.2" y="720.4" width="3.2" height="6"/>
<rect x="1690.6" y="714.8" width="3.6" height="12"/>
</g>
<g font-family="'Liberation Serif', 'Times New Roman', serif" fill="#000">
<g font-size="28.1" text-anchor="end">
<text x="862.3" y="734.6">0.0</text>
<text x="862.3" y="669.5">0.2</text>
<text x="862.3" y="604.4">0.4</text>
<text x="862.3" y="539.3">0.6</text>
<text x="862.3" y="474.2">0.8</text>
<text x="862.3" y="409.1">1.0</text>
<text x="862.3" y="344">1.2</text>
<text x="862.3" y="278.9">1.4</text>
<text x="862.3" y="213.8">1.6</text>
<text x="862.3" y="148.7">1.8</text>
<text x="862.3" y="83.6">2.0</text>
</g>
<g font-size="27.5" text-anchor="middle">
<text x="876.8" y="762">0</text>
<text x="1040" y="762">20</text>
<text x="1203.2" y="762">40</text>
<text x="1366.4" y="762">60</text>
<text x="1529.6" y="762">80</text>
<text x="1692.8" y="762">100</text>
</g>
<text x="1283.7" y="802.3" font-size="34.1" text-anchor="middle">Height of test piece/mm</text>
<rect x="1385" y="82.6" width="75.2" height="4" fill="#ff0000"/>
<text x="1470.6" y="93.3" font-size="26.3">Before test</text>
<rect x="1385" y="114" width="77.5" height="4" fill="#00a650"/>
<text x="1470.6" y="124.9" font-size="26.3">Compaction point A</text>
<rect x="1385" y="146.7" width="77.5" height="4" fill="#0a6ec8"/>
<text x="1470.6" y="156.4" font-size="26.3">Crack growth point C</text>
<rect x="1385" y="178" width="77.5" height="4" fill="#000"/>
<text x="1470.6" y="188" font-size="26.3">Breaking point D</text>
<text x="3.2" y="38.3" font-size="49.6">(a)</text>
<text x="811" y="41.4" font-size="43">(b)</text>
</g>
</g>
</svg>
</body>
</html>
